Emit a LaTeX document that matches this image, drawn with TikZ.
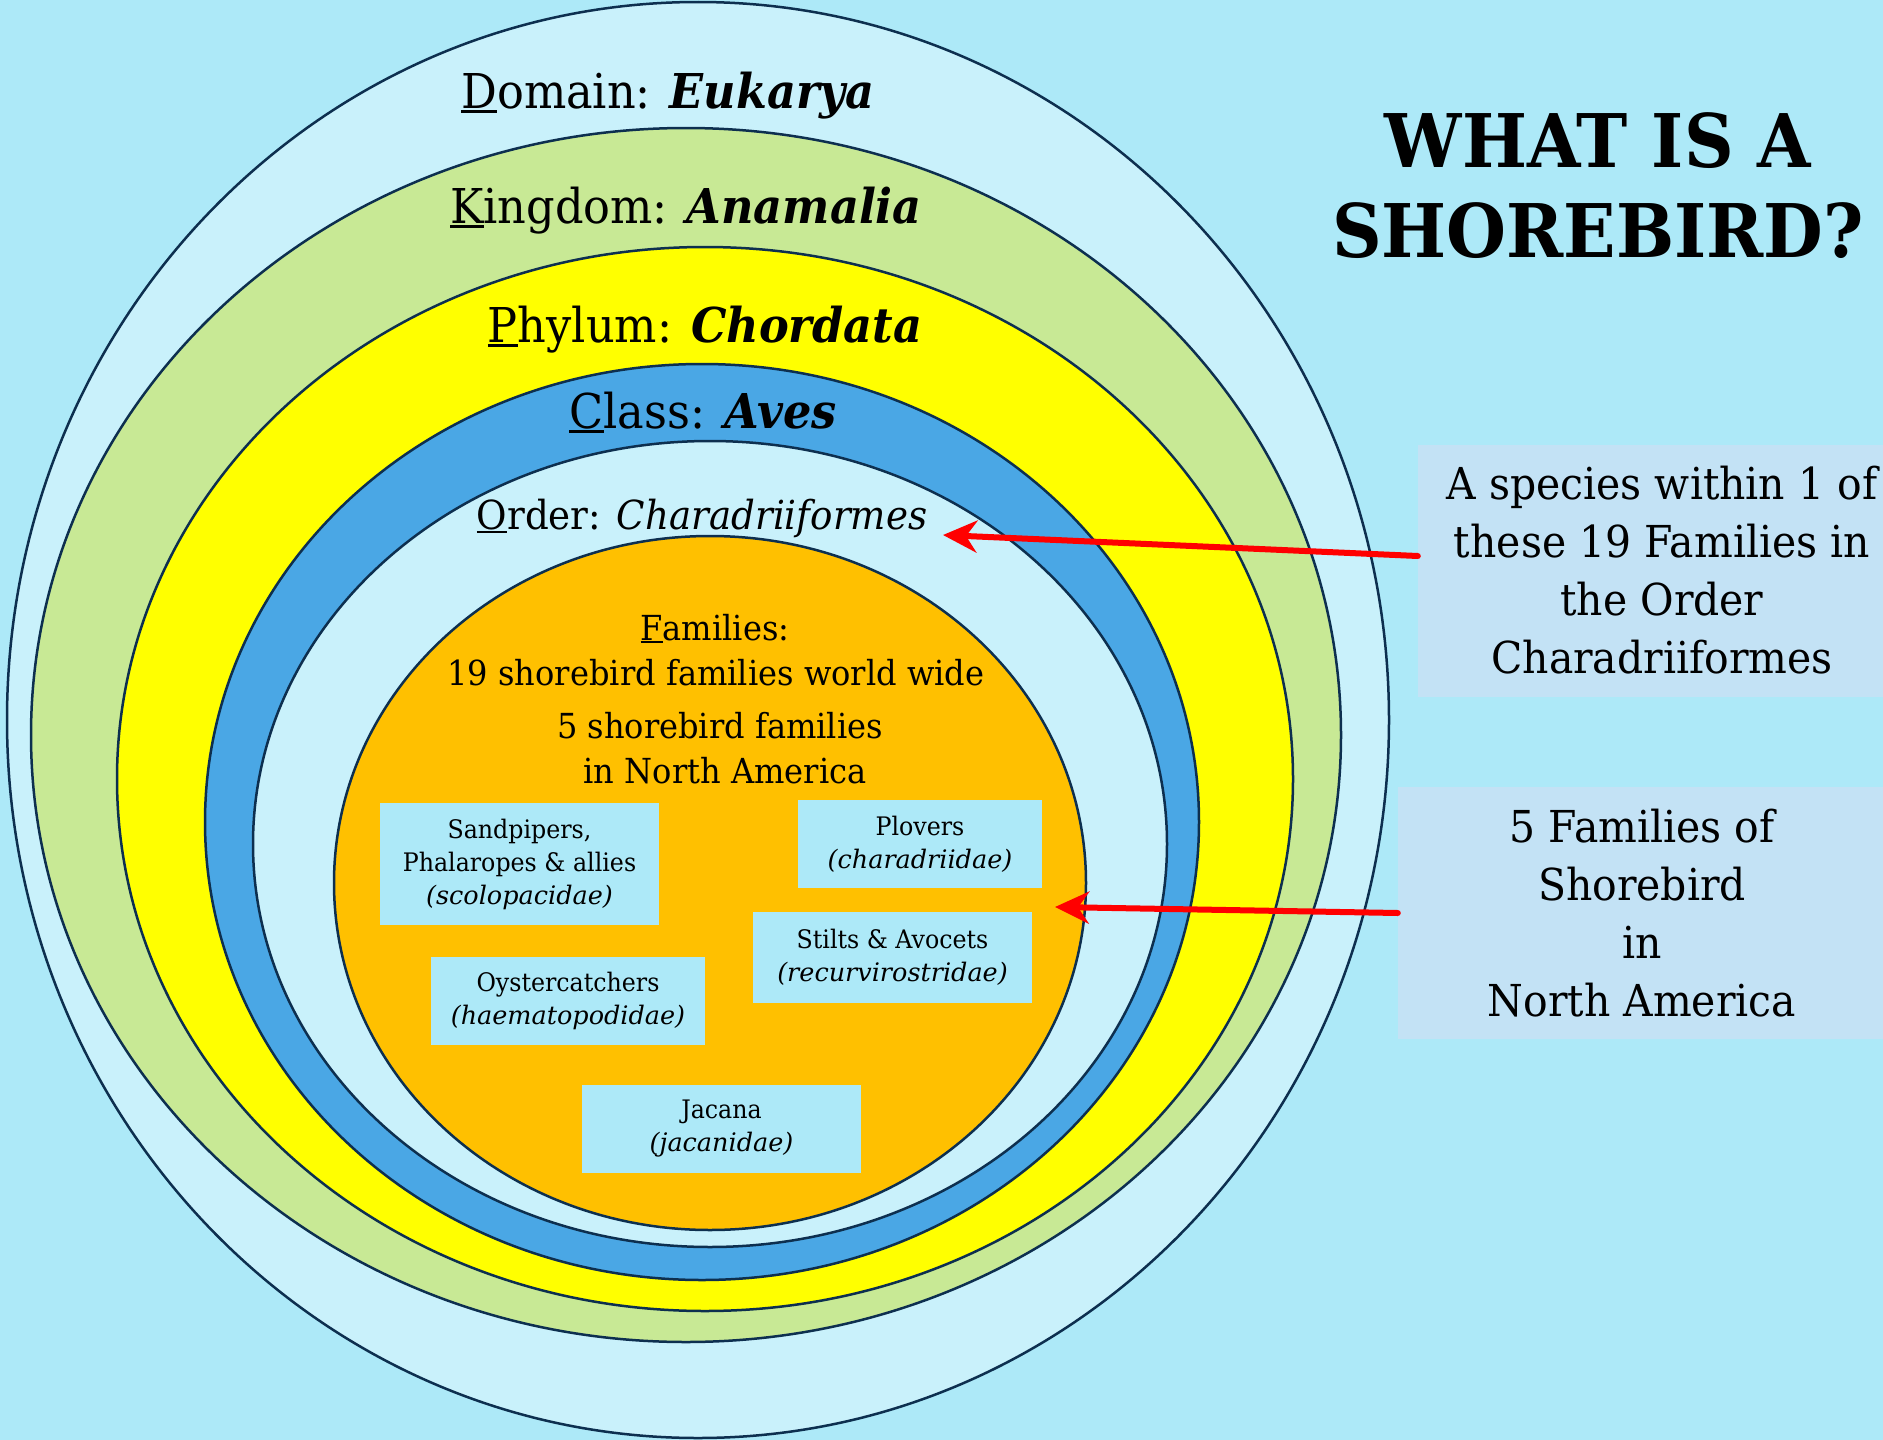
\documentclass[tikz,border=0pt]{standalone}
\usepackage{fontspec}
\setmainfont{DejaVu Serif}[FakeStretch=0.93]
\newfontfamily\plainserif{DejaVu Serif}
\newcommand{\boxitalic}[1]{{\plainserif\itshape #1}}
\newcommand{\ulchar}[1]{\leavevmode\setbox0=\hbox{#1}\rlap{\rule[-0.1em]{\wd0}{0.06em}}\box0}
\usetikzlibrary{arrows.meta}
\definecolor{bgc}{HTML}{ADE9F8}
\definecolor{domc}{HTML}{C9F1FB}
\definecolor{kingc}{HTML}{C8E995}
\definecolor{phyc}{HTML}{FFFF00}
\definecolor{clsc}{HTML}{4AA7E5}
\definecolor{ordc}{HTML}{C9F1FB}
\definecolor{famc}{HTML}{FFC000}
\definecolor{boxc}{HTML}{ADE9F8}
\definecolor{rboxc}{HTML}{C3E2F5}
\definecolor{linec}{HTML}{0D2F4F}
\definecolor{arrc}{HTML}{FF0000}
\begin{document}
\begin{tikzpicture}[x=1pt,y=-1pt,
  ring/.style={draw=linec,line width=2.5pt},
  ranklabel/.style={anchor=base,inner sep=0pt,font=\fontsize{48}{58}\selectfont},
  ordlabel/.style={anchor=base,inner sep=0pt,font=\fontsize{40}{50}\selectfont},
  famlabel/.style={anchor=base,inner sep=0pt,font=\fontsize{34.5}{42}\selectfont},
  fambox/.style={fill=boxc,inner sep=0pt,align=center,font=\fontsize{25.5}{33}\selectfont},
  sidebox/.style={fill=rboxc,inner sep=0pt,align=center,minimum width=488pt,minimum height=252pt,font=\fontsize{44}{58}\selectfont},
  titlelabel/.style={inner sep=0pt,align=center,font=\fontsize{74}{90}\selectfont\bfseries},
  redarrow/.style={draw=arrc,line width=6pt,line cap=round,-{Stealth[length=34pt,width=32pt,inset=11pt]}}
]
\useasboundingbox (0,0) rectangle (1883,1440);
\fill[bgc] (0,0) rectangle (1883,1440);

% nested ellipses
\draw[ring,fill=domc]  (698,720) ellipse [x radius=691, y radius=718];
\draw[ring,fill=kingc] (686,735) ellipse [x radius=655, y radius=607];
\draw[ring,fill=phyc]  (705,779) ellipse [x radius=588, y radius=532];
\draw[ring,fill=clsc]  (702,822) ellipse [x radius=497, y radius=458];
\draw[ring,fill=ordc]  (710,844) ellipse [x radius=457, y radius=403];
\draw[ring,fill=famc]  (710,883) ellipse [x radius=376, y radius=347];

% rank labels
\node[ranklabel] (domain)  at (668,108) {\ulchar{D}omain: \textbf{\textit{Eukarya}}};
\node[ranklabel] (kingdom) at (686,223) {\ulchar{K}ingdom: \textbf{\textit{Anamalia}}};
\node[ranklabel] (phylum)  at (705,342) {\ulchar{P}hylum: \textbf{\textit{Chordata}}};
\node[ranklabel] (class)   at (703,428) {\ulchar{C}lass: \textbf{\textit{Aves}}};
\node[ordlabel]  (order)   at (702,529) {\ulchar{O}rder: \textit{Charadriiformes}};

\node[famlabel] (fam1) at (715,640) {\ulchar{F}amilies:};
\node[famlabel] (fam2) at (716,685) {19 shorebird families world wide};
\node[famlabel] (fam3) at (720,738) {5 shorebird families};
\node[famlabel] (fam4) at (725,783) {in North America};

% family boxes
\node[fambox,minimum width=279pt,minimum height=122pt] (sand) at (519.5,864) {Sandpipers,\\Phalaropes \& allies\\\boxitalic{(scolopacidae)}};
\node[fambox,minimum width=244pt,minimum height=88pt] (plov) at (920,844) {Plovers\\\boxitalic{(charadriidae)}};
\node[fambox,minimum width=279pt,minimum height=91pt] (stilt) at (892.5,957.5) {Stilts \& Avocets\\\boxitalic{(recurvirostridae)}};
\node[fambox,minimum width=274pt,minimum height=88pt] (oyst) at (568,1001) {Oystercatchers\\\boxitalic{(haematopodidae)}};
\node[fambox,minimum width=279pt,minimum height=88pt] (jac) at (721.5,1129) {Jacana\\\boxitalic{(jacanidae)}};

% title
\node[titlelabel] (title) at (1598,186) {WHAT IS A\\SHOREBIRD?};

% side boxes
\node[sidebox] (side1) at (1662,570.5) {A species within 1 of\\these 19 Families in\\the Order\\Charadriiformes};
\node[sidebox] (side2) at (1642,913) {5 Families of\\Shorebird\\in\\North America};

% arrows
\coordinate (tip1) at (943,535);
\coordinate (tip2) at (1055,907);
\draw[redarrow] (side1.west |- 0,556) -- (tip1);
\draw[redarrow] (side2.west |- 0,913) -- (tip2);
\end{tikzpicture}
\end{document}
